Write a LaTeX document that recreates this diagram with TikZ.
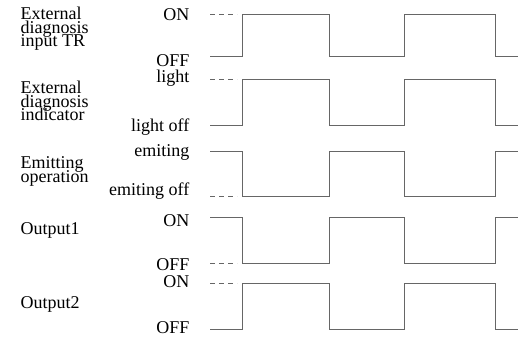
\documentclass[tikz,border=0pt]{standalone}
\usepackage{fontspec}
\setmainfont{Liberation Serif}
\newcommand{\stackedlines}[1]{\vtop{\baselineskip=13.6pt\lineskiplimit=-100pt\lineskip=0pt\halign{##\hfil\cr#1\cr}}}
\begin{document}
\begin{tikzpicture}[x=1pt,y=-1pt,
  lbl/.style={anchor=base west,inner sep=0pt,font=\fontsize{18}{13.6}\selectfont},
  lvl/.style={anchor=base east,inner sep=0pt,font=\fontsize{18}{14}\selectfont},
  wave/.style={draw=black!60,line width=0.85pt},
  dsh/.style={draw=black!60,line width=0.85pt,dash pattern=on 5pt off 4pt}]
\useasboundingbox (0,0) rectangle (519,343);
% left labels
\node[lbl] (l1) at (20.5,19.5) {\stackedlines{External\cr diagnosis\cr input TR}};
\node[lbl] (l2) at (20.5,93.5) {\stackedlines{External\cr diagnosis\cr indicator}};
\node[lbl] (l3) at (20.5,168.5) {\stackedlines{Emitting\cr operation}};
\node[lbl] (l4) at (20.5,234) {Output1};
\node[lbl] (l5) at (20.5,308) {Output2};
% level labels
\node[lvl] (a1) at (189.5,20.7) {ON};
\node[lvl] (a0) at (189.5,66.7) {OFF};
\node[lvl] (b1) at (189.5,82.7) {light};
\node[lvl] (b0) at (189.5,131.7) {light off};
\node[lvl] (c1) at (189.5,156.7) {emiting};
\node[lvl] (c0) at (189.5,195) {emiting off};
\node[lvl] (d1) at (189.5,226) {ON};
\node[lvl] (d0) at (189.5,270.7) {OFF};
\node[lvl] (e1) at (189.5,287.3) {ON};
\node[lvl] (e0) at (189.5,333.3) {OFF};
% waveforms (rows starting low)
\foreach \h/\l in {14.5/56.5, 79/125, 283/329}{
  \draw[dsh] (210,\h) -- (237,\h);
  \draw[wave] (210,\l) -| (242,\h) -| (329,\l) -| (404,\h) -| (495,\l) -- (518,\l);
}
% waveforms (rows starting high)
\foreach \h/\l in {151/196, 217.7/263}{
  \draw[dsh] (210,\l) -- (237,\l);
  \draw[wave] (210,\h) -| (242,\l) -| (329,\h) -| (404,\l) -| (495,\h) -- (518,\h);
}
\end{tikzpicture}
\end{document}
